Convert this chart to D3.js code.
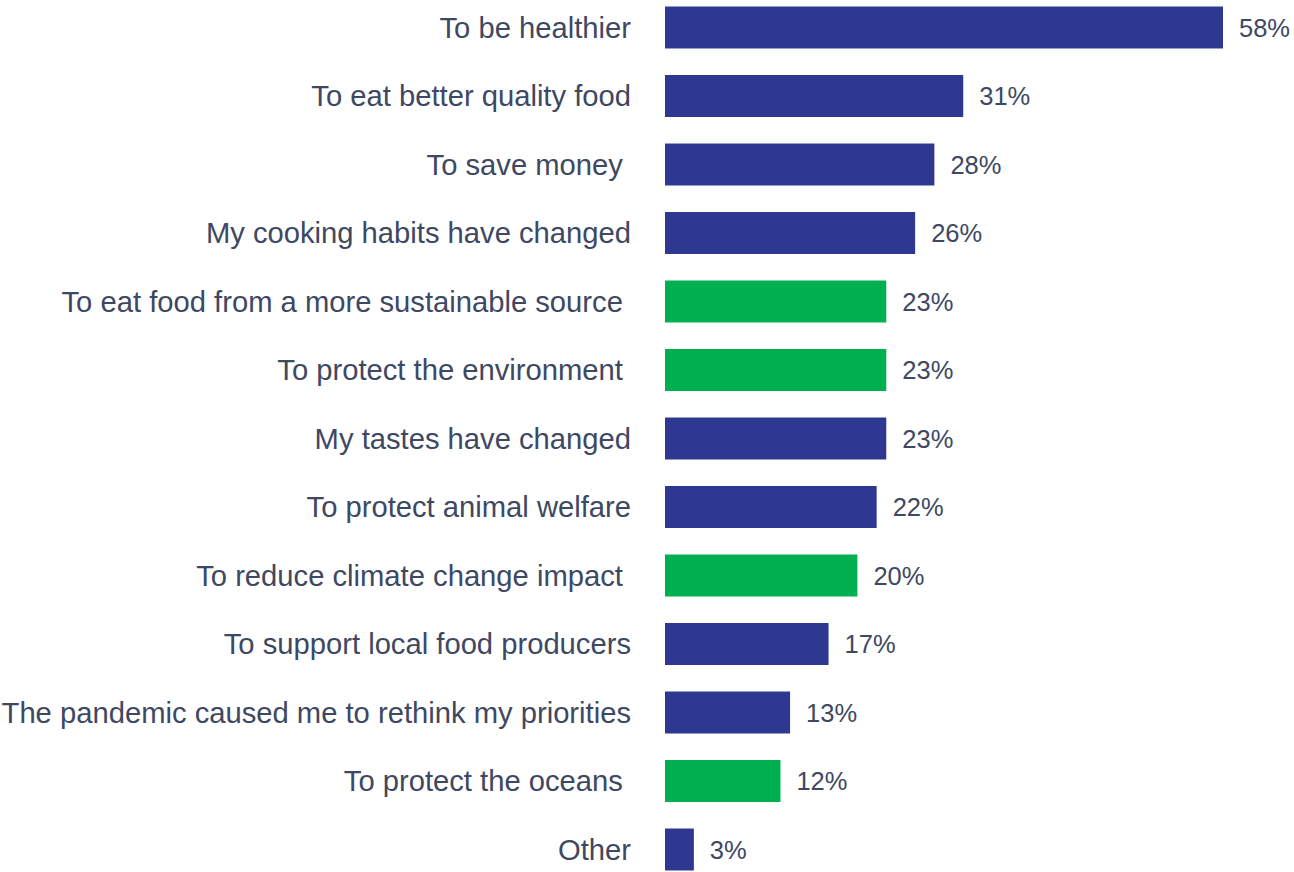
<!DOCTYPE html>
<html>
<head>
<meta charset="utf-8">
<script src="https://cdn.jsdelivr.net/npm/d3@7"></script>
<style>
  html, body { margin: 0; padding: 0; background: #ffffff; }
  svg { display: block; }
  text { font-family: "Liberation Sans", Arial, sans-serif; }
</style>
</head>
<body>
<svg id="chart" width="1294" height="872"></svg>
<script>
// Reasons given for changing diet, share of respondents (%)
const categories = [
  "To be healthier",
  "To eat better quality food",
  "To save money ",
  "My cooking habits have changed",
  "To eat food from a more sustainable source ",
  "To protect the environment ",
  "My tastes have changed",
  "To protect animal welfare",
  "To reduce climate change impact ",
  "To support local food producers",
  "The pandemic caused me to rethink my priorities",
  "To protect the oceans ",
  "Other"
];
const values = [58, 31, 28, 26, 23, 23, 23, 22, 20, 17, 13, 12, 3];
// Environment-related reasons are highlighted
const groups = ["general", "general", "general", "general", "environment", "environment",
                "general", "general", "environment", "general", "general", "environment", "general"];

const colors = { general: "#2E3890", environment: "#00AF50" };
const textColor = "#3E4862";

const svg = d3.select("#chart");

const x = d3.scaleLinear().domain([0, 58]).range([665, 1223]);
const y = d3.scaleBand()
  .domain(categories)
  .range([-6.75, 883.75])
  .paddingInner(0.387)
  .paddingOuter(0.1935);

const rows = categories.map((c, i) => ({ category: c, value: values[i], group: groups[i] }));

svg.append("g")
  .selectAll("rect")
  .data(rows)
  .join("rect")
  .attr("x", x(0))
  .attr("y", d => y(d.category))
  .attr("width", d => x(d.value) - x(0))
  .attr("height", y.bandwidth())
  .attr("fill", d => colors[d.group]);

// Category labels, right-aligned against the bars
svg.append("g")
  .selectAll("text")
  .data(rows)
  .join("text")
  .attr("xml:space", "preserve")
  .style("white-space", "pre")
  .attr("x", 631)
  .attr("y", d => y(d.category) + y.bandwidth() / 2)
  .attr("dy", "0.35em")
  .attr("text-anchor", "end")
  .attr("font-size", 29.2)
  .attr("fill", textColor)
  .text(d => d.category);

// Value labels at the end of each bar
svg.append("g")
  .selectAll("text")
  .data(rows)
  .join("text")
  .attr("x", d => x(d.value) + 16)
  .attr("y", d => y(d.category) + y.bandwidth() / 2)
  .attr("dy", "0.37em")
  .attr("font-size", 25.5)
  .attr("fill", textColor)
  .text(d => d.value + "%");
</script>
</body>
</html>
